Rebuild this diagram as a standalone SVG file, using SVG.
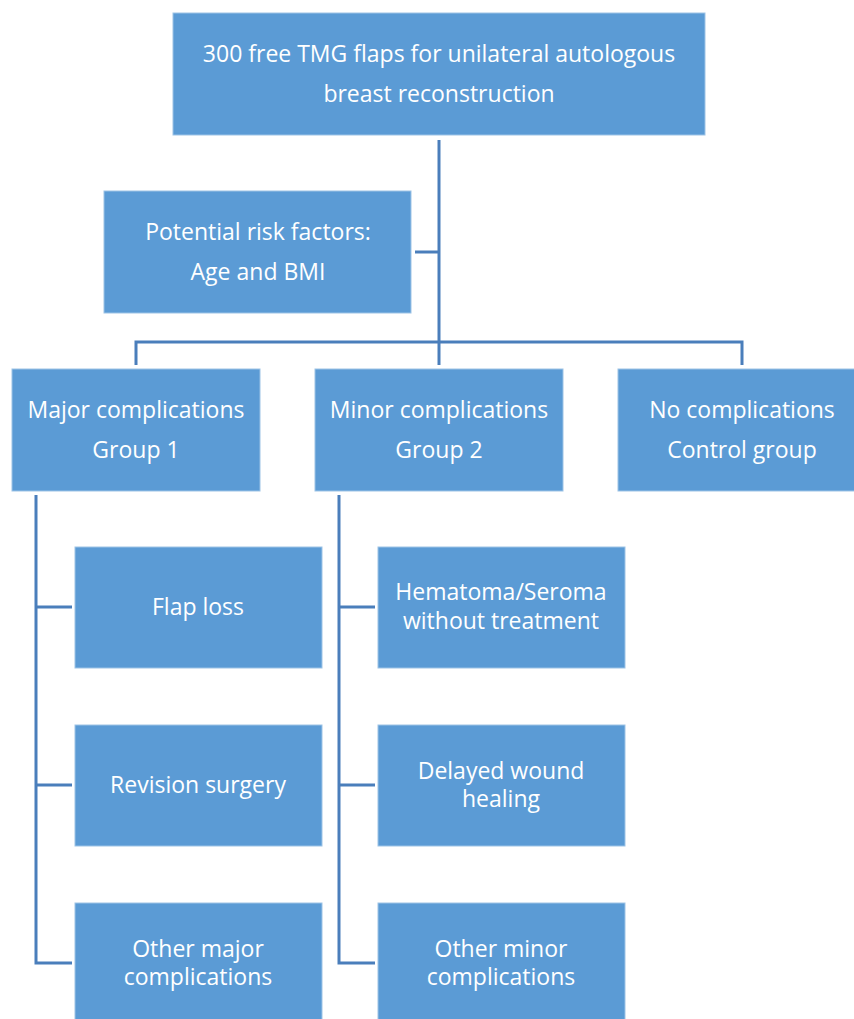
<svg xmlns="http://www.w3.org/2000/svg" width="854" height="1019" viewBox="0 0 854 1019">
<style>
.box{fill:#5B9BD5;stroke:#9DC3E6;stroke-width:1}
.t{font-family:"Open Sans","Noto Sans","Liberation Sans",sans-serif;font-size:23px;fill:#FFFFFF;text-anchor:middle}
.c{fill:none;stroke:#4A7EBB;stroke-width:3}
</style>
<rect width="854" height="1019" fill="#FFFFFF"/>
<g id="connectors">
<path class="c" d="M439,140 V365"/>
<path class="c" d="M415,252 H439"/>
<path class="c" d="M136,365 V342 H742 V365"/>
<path class="c" d="M36,495 V963 H72"/>
<path class="c" d="M36,607 H72"/>
<path class="c" d="M36,785 H72"/>
<path class="c" d="M339,495 V963 H375"/>
<path class="c" d="M339,607 H375"/>
<path class="c" d="M339,785 H375"/>
</g>
<g id="n-top"><rect class="box" x="173" y="13" width="532" height="122"/>
<text class="t" x="439" y="62">300 free TMG flaps for unilateral autologous</text>
<text class="t" x="439" y="102">breast reconstruction</text></g>
<g id="n-risk"><rect class="box" x="104" y="191" width="307" height="122"/>
<text class="t" x="258" y="240">Potential risk factors:</text>
<text class="t" x="258" y="280">Age and BMI</text></g>
<g id="n-major"><rect class="box" x="12" y="369" width="248" height="122"/>
<text class="t" x="136" y="418">Major complications</text>
<text class="t" x="136" y="458">Group 1</text></g>
<g id="n-minor"><rect class="box" x="315" y="369" width="248" height="122"/>
<text class="t" x="439" y="418">Minor complications</text>
<text class="t" x="439" y="458">Group 2</text></g>
<g id="n-none"><rect class="box" x="618" y="369" width="248" height="122"/>
<text class="t" x="742" y="418">No complications</text>
<text class="t" x="742" y="458">Control group</text></g>
<g id="n-flaploss"><rect class="box" x="75" y="547" width="247" height="121"/>
<text class="t" x="198" y="615">Flap loss</text></g>
<g id="n-revision"><rect class="box" x="75" y="725" width="247" height="121"/>
<text class="t" x="198" y="793">Revision surgery</text></g>
<g id="n-othermajor"><rect class="box" x="75" y="903" width="247" height="121"/>
<text class="t" x="198" y="957">Other major</text>
<text class="t" x="198" y="985">complications</text></g>
<g id="n-hematoma"><rect class="box" x="378" y="547" width="247" height="121"/>
<text class="t" x="501" y="600">Hematoma/Seroma</text>
<text class="t" x="501" y="629">without treatment</text></g>
<g id="n-delayed"><rect class="box" x="378" y="725" width="247" height="121"/>
<text class="t" x="501" y="779">Delayed wound</text>
<text class="t" x="501" y="807">healing</text></g>
<g id="n-otherminor"><rect class="box" x="378" y="903" width="247" height="121"/>
<text class="t" x="501" y="957">Other minor</text>
<text class="t" x="501" y="985">complications</text></g>
</svg>
